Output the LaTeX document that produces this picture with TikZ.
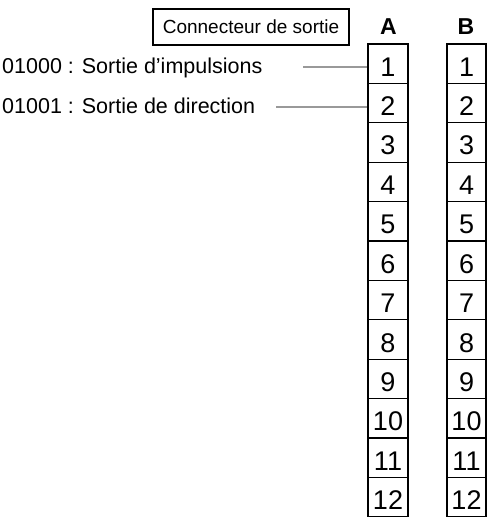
\documentclass[tikz,border=0pt]{standalone}
\usepackage{fontspec}
\setmainfont{Liberation Sans}
\tikzset{
    cell/.style={draw, line width = 0.45mm, minimum width = 40pt, minimum height = 39.4pt,
        inner sep = 0pt, text height = 25pt, text depth = 0pt, font=\fontsize{27}{30}\selectfont},
    leader/.style={line width = 1mm, gray!80},
    pinlabel/.style={anchor = base west, inner sep = 0pt, font=\fontsize{21.5}{25}\selectfont}
}
\begin{document}
\begin{tikzpicture}[x=1pt,y=-1pt]
            \useasboundingbox (0,0) rectangle (489,521);
            
            \node[draw, line width = 0.4mm, minimum width = 196pt, minimum height = 36pt,
                  font=\fontsize{19}{22}\selectfont] (title) at (251,27) {Connecteur de sortie};
            \node[font=\fontsize{23}{26}\bfseries] (colA) at (388.5,26.7) {A};
            \node[font=\fontsize{23}{26}\bfseries] (colB) at (466,26.7) {B};
            
            \node[cell] (a1) at (388,63.7) {1};
            \node[cell] (a2) at (388,103.1) {2};
            \node[cell] (a3) at (388,142.5) {3};
            \node[cell] (a4) at (388,181.9) {4};
            \node[cell] (a5) at (388,221.3) {5};
            \node[cell] (a6) at (388,260.7) {6};
            \node[cell] (a7) at (388,300.1) {7};
            \node[cell] (a8) at (388,339.5) {8};
            \node[cell] (a9) at (388,378.9) {9};
            \node[cell] (a10) at (388,418.3) {10};
            \node[cell] (a11) at (388,457.7) {11};
            \node[cell] (a12) at (388,497.1) {12};
            
            \node[cell,minimum width = 39pt] (b1) at (466.5,63.7) {1};
            \node[cell,minimum width = 39pt] (b2) at (466.5,103.1) {2};
            \node[cell,minimum width = 39pt] (b3) at (466.5,142.5) {3};
            \node[cell,minimum width = 39pt] (b4) at (466.5,181.9) {4};
            \node[cell,minimum width = 39pt] (b5) at (466.5,221.3) {5};
            \node[cell,minimum width = 39pt] (b6) at (466.5,260.7) {6};
            \node[cell,minimum width = 39pt] (b7) at (466.5,300.1) {7};
            \node[cell,minimum width = 39pt] (b8) at (466.5,339.5) {8};
            \node[cell,minimum width = 39pt] (b9) at (466.5,378.9) {9};
            \node[cell,minimum width = 39pt] (b10) at (466.5,418.3) {10};
            \node[cell,minimum width = 39pt] (b11) at (466.5,457.7) {11};
            \node[cell,minimum width = 39pt] (b12) at (466.5,497.1) {12};
            
            \node[pinlabel] (pulse) at (2,73.3) {01000 : Sortie d’impulsions};
            \node[pinlabel] (dir) at (2,113.3) {01001 : Sortie de direction};
            
            \coordinate (l1) at (303,67);
            \coordinate (l2) at (276,107);
            \draw[leader] (l1) -- (l1 -| a1.west);
            \draw[leader] (l2) -- (l2 -| a2.west);
            
        \end{tikzpicture}
\end{document}
